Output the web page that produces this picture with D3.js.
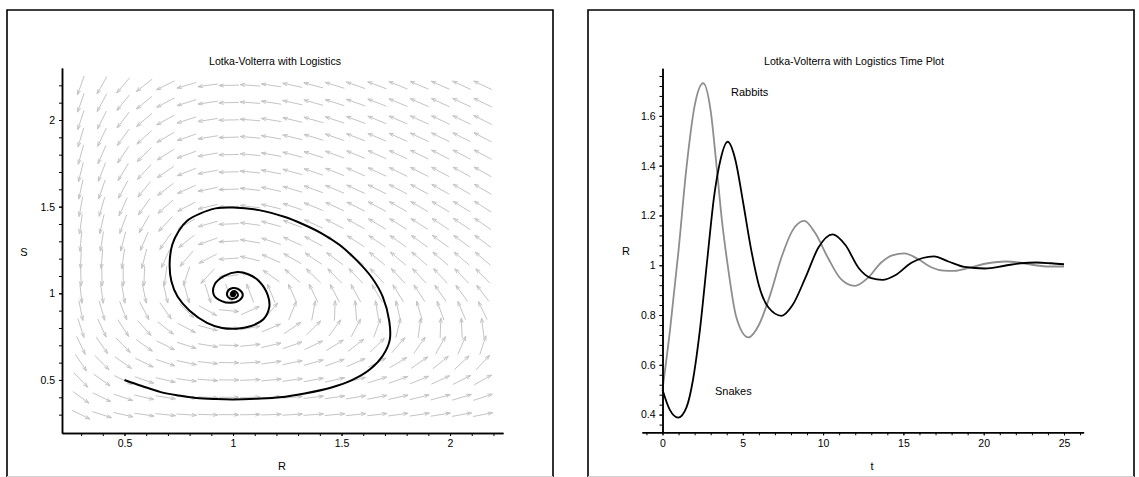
<!DOCTYPE html>
<html>
<head>
<meta charset="utf-8">
<script src="https://cdn.jsdelivr.net/npm/d3@7"></script>
<style>
  body { margin: 0; background: #fff; }
  text { font-family: "Liberation Sans", Arial, sans-serif; fill: #000; }
</style>
</head>
<body>
<script>
// Direction field grid (arrow centres)
const gridR = [0.299, 0.396, 0.494, 0.591, 0.689, 0.786, 0.884, 0.981, 1.079, 1.176,
               1.274, 1.371, 1.469, 1.566, 1.664, 1.761, 1.859, 1.956, 2.054, 2.151];
const gridS = [0.3, 0.4, 0.5, 0.6, 0.7, 0.8, 0.9, 1.0, 1.1, 1.2,
               1.3, 1.4, 1.5, 1.6, 1.7, 1.8, 1.9, 2.0, 2.1, 2.2];

// model coefficients: R' = R(a - bR - cS), S' = S(eR - d)
const rabbitGrowth = 1.68, rabbitCrowding = 0.28, predation = 1.4;
const snakeDeath = 1.0, snakeGain = 1.0;

// phase trajectory, starting at (0.5, 0.5)
const trajR = [0.5, 0.58, 0.667, 0.75, 0.83, 0.92, 1.0, 1.11, 1.217, 1.33, 1.45, 1.55, 1.63, 1.69, 1.722,
               1.72, 1.69, 1.64, 1.57, 1.49, 1.41, 1.32, 1.24, 1.12, 1.0, 0.92, 0.848, 0.79, 0.75, 0.72,
               0.708, 0.716, 0.745, 0.80, 0.88, 0.95, 1.017, 1.08, 1.14, 1.167, 1.16, 1.12, 1.07, 1.02,
               0.96, 0.915, 0.912, 0.948, 0.99, 1.03, 1.045, 1.03, 1.0, 0.975, 0.976, 1.0, 1.022, 1.015, 1.0, 0.992, 1.0];
const trajS = [0.5, 0.465, 0.43, 0.41, 0.396, 0.39, 0.388, 0.392, 0.40, 0.422, 0.455, 0.50, 0.56, 0.64, 0.73,
               0.84, 0.98, 1.09, 1.19, 1.28, 1.345, 1.40, 1.44, 1.48, 1.495, 1.49, 1.46, 1.42, 1.36, 1.28,
               1.17, 1.07, 0.98, 0.90, 0.83, 0.80, 0.796, 0.81, 0.85, 0.92, 0.99, 1.07, 1.11, 1.123,
               1.10, 1.05, 0.99, 0.955, 0.945, 0.96, 0.99, 1.02, 1.03, 1.01, 0.98, 0.968, 0.985, 1.008, 1.012, 1.0, 0.994];

// time plot
const rabbitT = [0, 0.47, 1.0, 1.5, 2.0, 2.54, 3.0, 3.37, 3.7, 4.06, 4.6, 5.35, 6.0, 6.7, 7.4, 8.1, 8.83,
                 9.5, 10.3, 11.1, 11.97, 12.8, 13.6, 14.3, 15.07, 15.9, 16.8, 17.5, 18.19, 19.0, 20.0, 20.7,
                 21.4, 22.3, 23.2, 24.1, 25];
const rabbitV = [0.5, 0.74, 1.06, 1.396, 1.64, 1.731, 1.62, 1.396, 1.18, 1.0, 0.79, 0.71, 0.76, 0.88, 1.03, 1.14, 1.178,
                 1.13, 1.03, 0.945, 0.917, 0.95, 1.01, 1.04, 1.048, 1.025, 0.99, 0.978, 0.977, 0.988, 1.005, 1.012,
                 1.015, 1.01, 1.0, 0.995, 0.995];
const snakeT = [0, 0.45, 0.98, 1.5, 1.9, 2.33, 2.8, 3.2, 3.52, 4.06, 4.55, 5.0, 5.5, 6.0, 6.6, 7.41,
                8.1, 8.9, 9.7, 10.6, 11.4, 12.2, 13.0, 13.7, 14.5, 15.5, 16.9, 17.8, 18.8, 20.07, 21.3,
                22.3, 23.3, 24.2, 25];
const snakeV = [0.5, 0.42, 0.388, 0.43, 0.54, 0.74, 1.03, 1.27, 1.396, 1.496, 1.42, 1.26, 1.07, 0.92, 0.83, 0.797,
                0.84, 0.95, 1.07, 1.124, 1.08, 0.99, 0.948, 0.941, 0.96, 1.01, 1.036, 1.015, 0.993, 0.987, 0.998,
                1.008, 1.011, 1.008, 1.004];

const phaseTicksX = [0.5, 1, 1.5, 2];
const phaseTicksY = [0.5, 1, 1.5, 2];
const timeTicksX = [0, 5, 10, 15, 20, 25];
const timeTicksY = [0.4, 0.6, 0.8, 1, 1.2, 1.4, 1.6];

const svg = d3.select('body').append('svg')
    .attr('width', 1139)
    .attr('height', 477);

// panel frames
[[7, 553], [588, 1134]].forEach(([x0, x1]) => {
    svg.append('path')
        .attr('d', `M${x0},490V10H${x1}V490`)
        .attr('fill', 'none')
        .attr('stroke', '#000')
        .attr('stroke-width', 1.6);
    svg.append('line')
        .attr('x1', x0).attr('x2', x1)
        .attr('y1', 476.5).attr('y2', 476.5)
        .attr('stroke', '#cfcfcf');
});

// helper for maple style axes
const styleAxis = g => {
    g.select('.domain').attr('stroke-width', 1.5);
    g.selectAll('.tick line').attr('stroke-width', 1);
    g.selectAll('text')
        .attr('font-family', '"Liberation Sans", Arial, sans-serif')
        .attr('font-size', 10.5);
};

// ---------- left: phase plane ----------
const px = d3.scaleLinear().domain([0.212, 2.244]).range([62, 503]);
const py = d3.scaleLinear().domain([0.194, 2.30]).range([433, 68]);

const phase = svg.append('g');

// direction field
const field = phase.append('g')
    .attr('stroke', '#c4c4c4')
    .attr('stroke-width', 1)
    .attr('fill', 'none');

const kx = px(1) - px(0), ky = py(0) - py(1);
gridS.forEach(s => {
    gridR.forEach(r => {
        const dr = r * (rabbitGrowth - rabbitCrowding * r - predation * s);
        const ds = s * (snakeGain * r - snakeDeath);
        let vx = dr * kx, vy = -ds * ky;
        const len = Math.hypot(vx, vy) || 1;
        vx = vx / len; vy = vy / len;
        const L = 20, head = 5, ang = 0.33;
        const cx = px(r), cy = py(s);
        const x1 = cx - vx * L / 2, y1 = cy - vy * L / 2;
        const x2 = cx + vx * L / 2, y2 = cy + vy * L / 2;
        const a = Math.atan2(vy, vx);
        const hx1 = x2 - head * Math.cos(a - ang), hy1 = y2 - head * Math.sin(a - ang);
        const hx2 = x2 - head * Math.cos(a + ang), hy2 = y2 - head * Math.sin(a + ang);
        field.append('path')
            .attr('d', `M${x1},${y1}L${x2},${y2}M${hx1},${hy1}L${x2},${y2}L${hx2},${hy2}`);
    });
});

// trajectory
const trajLine = d3.line()
    .x(d => px(d[0]))
    .y(d => py(d[1]))
    .curve(d3.curveCatmullRom.alpha(0.5));

phase.append('path')
    .datum(d3.zip(trajR, trajS))
    .attr('d', trajLine)
    .attr('fill', 'none')
    .attr('stroke', '#000')
    .attr('stroke-width', 2);

phase.append('circle')
    .attr('cx', px(trajR[trajR.length - 1]))
    .attr('cy', py(trajS[trajS.length - 1]))
    .attr('r', 3)
    .attr('fill', '#000');

// axes
phase.append('g')
    .attr('transform', 'translate(0,433)')
    .call(d3.axisBottom(px).tickValues(gridS).tickSize(3).tickSizeOuter(0).tickFormat(''))
    .call(styleAxis);
phase.append('g')
    .attr('transform', 'translate(0,433)')
    .call(d3.axisBottom(px).tickValues(phaseTicksX).tickSize(3).tickSizeOuter(0).tickPadding(4).tickFormat(d3.format('')))
    .call(styleAxis);
phase.append('g')
    .attr('transform', 'translate(62,0)')
    .call(d3.axisLeft(py).tickValues(gridS).tickSize(3).tickSizeOuter(0).tickFormat(''))
    .call(styleAxis);
phase.append('g')
    .attr('transform', 'translate(62,0)')
    .call(d3.axisLeft(py).tickValues(phaseTicksY).tickSize(3).tickSizeOuter(0).tickPadding(4).tickFormat(d3.format('')))
    .call(styleAxis);

phase.append('text')
    .attr('x', 275).attr('y', 65)
    .attr('text-anchor', 'middle')
    .attr('font-size', 11.5)
    .attr('textLength', 132)
    .attr('lengthAdjust', 'spacingAndGlyphs')
    .text('Lotka-Volterra with Logistics');
phase.append('text')
    .attr('x', 282).attr('y', 470)
    .attr('text-anchor', 'middle')
    .attr('font-size', 11)
    .text('R');
phase.append('text')
    .attr('x', 24).attr('y', 256)
    .attr('text-anchor', 'middle')
    .attr('font-size', 11)
    .text('S');

// ---------- right: time plot ----------
const tx = d3.scaleLinear().domain([-1.276, 26.22]).range([642, 1083.6]);
const ty = d3.scaleLinear().domain([0.329, 1.791]).range([432.3, 68.3]);

const timeG = svg.append('g');

const tLine = d3.line()
    .x(d => tx(d[0]))
    .y(d => ty(d[1]))
    .curve(d3.curveMonotoneX);

timeG.append('path')
    .datum(d3.zip(rabbitT, rabbitV))
    .attr('d', tLine)
    .attr('fill', 'none')
    .attr('stroke', '#8e8e8e')
    .attr('stroke-width', 1.8);

timeG.append('path')
    .datum(d3.zip(snakeT, snakeV))
    .attr('d', tLine)
    .attr('fill', 'none')
    .attr('stroke', '#000')
    .attr('stroke-width', 1.8);

timeG.append('g')
    .attr('transform', 'translate(0,432.3)')
    .call(d3.axisBottom(tx).tickValues(d3.range(-1, 27)).tickSize(3).tickSizeOuter(0).tickFormat(''))
    .call(styleAxis);
timeG.append('g')
    .attr('transform', 'translate(0,432.3)')
    .call(d3.axisBottom(tx).tickValues(timeTicksX).tickSize(3).tickSizeOuter(0).tickPadding(4).tickFormat(d3.format('')))
    .call(styleAxis);
timeG.append('g')
    .attr('transform', `translate(${tx(0)},0)`)
    .call(d3.axisLeft(ty).tickValues(d3.range(0.36, 1.78, 0.04)).tickSize(3).tickSizeOuter(0).tickFormat(''))
    .call(styleAxis);
timeG.append('g')
    .attr('transform', `translate(${tx(0)},0)`)
    .call(d3.axisLeft(ty).tickValues(timeTicksY).tickSize(3).tickSizeOuter(0).tickPadding(4).tickFormat(d3.format('')))
    .call(styleAxis);

timeG.append('text')
    .attr('x', 854).attr('y', 65)
    .attr('text-anchor', 'middle')
    .attr('font-size', 11.5)
    .attr('textLength', 180)
    .attr('lengthAdjust', 'spacingAndGlyphs')
    .text('Lotka-Volterra with Logistics Time Plot');
timeG.append('text')
    .attr('x', 872).attr('y', 470)
    .attr('text-anchor', 'middle')
    .attr('font-size', 11)
    .text('t');
timeG.append('text')
    .attr('x', 626).attr('y', 255)
    .attr('text-anchor', 'middle')
    .attr('font-size', 11)
    .text('R');
timeG.append('text')
    .attr('x', 731).attr('y', 96)
    .attr('font-size', 11)
    .text('Rabbits');
timeG.append('text')
    .attr('x', 715).attr('y', 394.5)
    .attr('font-size', 11)
    .text('Snakes');
</script>
</body>
</html>
